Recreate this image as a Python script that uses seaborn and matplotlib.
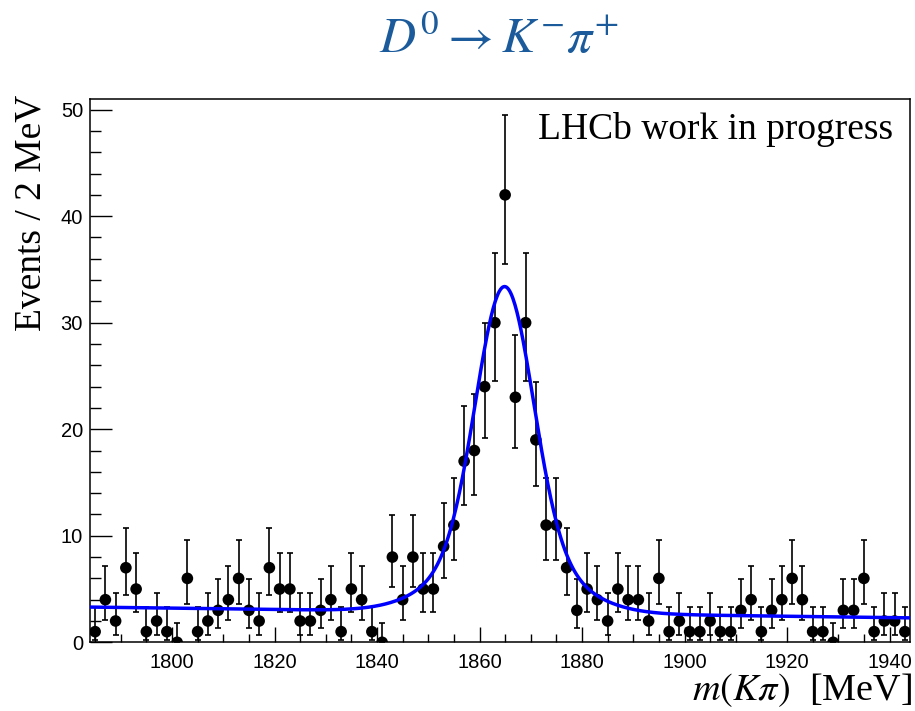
import math
import numpy as np
import pandas as pd
import matplotlib
matplotlib.use("Agg")
import matplotlib.pyplot as plt
import seaborn as sns

# ---- data ----
bin_lo, bin_hi, bin_width = 1784, 1944, 2
counts = [1, 4, 2, 7, 5, 1, 2, 1, 0, 6,
          1, 2, 3, 4, 6, 3, 2, 7, 5, 5,
          2, 2, 3, 4, 1, 5, 4, 1, 0, 8,
          4, 8, 5, 5, 9, 11, 17, 18, 24, 30,
          42, 23, 30, 19, 11, 11, 7, 3, 5, 4,
          2, 5, 4, 4, 2, 6, 1, 2, 1, 1,
          2, 1, 1, 3, 4, 1, 3, 4, 6, 4,
          1, 1, 0, 3, 3, 6, 1, 2, 2, 1]
x_ticks = [1800, 1820, 1840, 1860, 1880, 1900, 1920, 1940]
y_ticks = [0, 10, 20, 30, 40, 50]

# fit model parameters (double Gaussian + linear background)
fit_mean = 1864.9
fit_sigma_core = 5.5
fit_sigma_wide = 11.0
fit_frac_core = 0.8
fit_peak = 30.6
bkg_left = 3.3   # background level at first bin centre
bkg_right = 2.3  # background level at last bin centre

centers = np.arange(bin_lo + bin_width / 2, bin_hi, bin_width)
n = np.array(counts)


def pois_cdf(k, mu):
    if k < 0:
        return 0.0
    term = math.exp(-mu)
    s = term
    for j in range(1, k + 1):
        term *= mu / j
        s += term
    return s


def bisect(f, a, b, target, it=80):
    # f decreasing in mu
    for _ in range(it):
        m = 0.5 * (a + b)
        if f(m) > target:
            a = m
        else:
            b = m
    return 0.5 * (a + b)


alpha = 0.5 * (1 - 0.682689)
lo_err, hi_err = [], []
for k in counts:
    up = bisect(lambda mu: pois_cdf(k, mu), k, k + 10 * math.sqrt(k + 1) + 10, alpha)
    if k == 0:
        lo = 0.0
    else:
        lo = bisect(lambda mu: pois_cdf(k - 1, mu), 0.0, k, 1 - alpha)
    lo_err.append(k - lo)
    hi_err.append(up - k)

xf = np.linspace(bin_lo, bin_hi, 800)
bkg = bkg_left + (bkg_right - bkg_left) * (xf - centers[0]) / (centers[-1] - centers[0])
d = xf - fit_mean
sig = fit_peak * (fit_frac_core * np.exp(-0.5 * (d / fit_sigma_core) ** 2)
                  + (1 - fit_frac_core) * np.exp(-0.5 * (d / fit_sigma_wide) ** 2))
fit_df = pd.DataFrame({"m": xf, "y": bkg + sig})
data_df = pd.DataFrame({"m": centers, "n": n})

# ---- plotting ----
sns.set_theme(style="ticks")
plt.rcParams["font.family"] = ["Liberation Sans", "DejaVu Sans"]
plt.rcParams["mathtext.fontset"] = "stix"
plt.rcParams["text.color"] = "black"

fig = plt.figure(figsize=(9.15, 7.11), dpi=100)
ax = fig.add_axes([90 / 915, (711 - 642.3) / 711, 820 / 915, (642.3 - 99) / 711])

ax.errorbar(centers, n, yerr=[lo_err, hi_err], fmt="none", ecolor="black",
            elinewidth=1.2, capsize=2.2, capthick=1.2, zorder=2)
sns.scatterplot(data=data_df, x="m", y="n", ax=ax, color="black", s=70,
                edgecolor="none", zorder=3, legend=False)
sns.lineplot(data=fit_df, x="m", y="y", ax=ax, color="#0000ff", linewidth=2.5,
             zorder=4, legend=False)

ax.set_xlim(bin_lo, bin_hi)
ax.set_ylim(0, 51)
ax.set_xticks(x_ticks)
ax.set_yticks(y_ticks)
ax.set_xticks(np.arange(1785, 1945, 5), minor=True)
ax.set_yticks(np.arange(0, 51, 2), minor=True)
ax.tick_params(axis="both", which="both", direction="in", top=False, right=False,
               colors="black", labelsize=14.5, width=1.0)
ax.tick_params(axis="x", which="major", length=11, pad=8)
ax.tick_params(axis="x", which="minor", length=5.5)
ax.tick_params(axis="y", which="major", length=16, pad=5)
ax.tick_params(axis="y", which="minor", length=8)
for sp in ax.spines.values():
    sp.set_color("black")
    sp.set_linewidth(1.1)
ax.set_xlabel("")
ax.set_ylabel("")

serif = ["Liberation Serif", "DejaVu Serif"]
fig.text(31 / 915, 1 - 95 / 711, "Events / 2 MeV", rotation=90, ha="center", va="top",
         fontsize=27, family=serif, color="black")
fig.text(893 / 915, 1 - 139.3 / 711, "LHCb work in progress", ha="right", va="baseline",
         fontsize=27, family=serif, color="black")
fig.text(912 / 915, 1 - 700 / 711, r"$m(K\pi)$  [MeV]", ha="right", va="baseline",
         fontsize=27.5, family=serif, color="black")
fig.text(499 / 915, 1 - 53 / 711, r"$D^0 \rightarrow K^{-}\pi^{+}$", ha="center",
         va="baseline", fontsize=36, color="#1b5b9b")

fig.savefig("out.png", dpi=100)
